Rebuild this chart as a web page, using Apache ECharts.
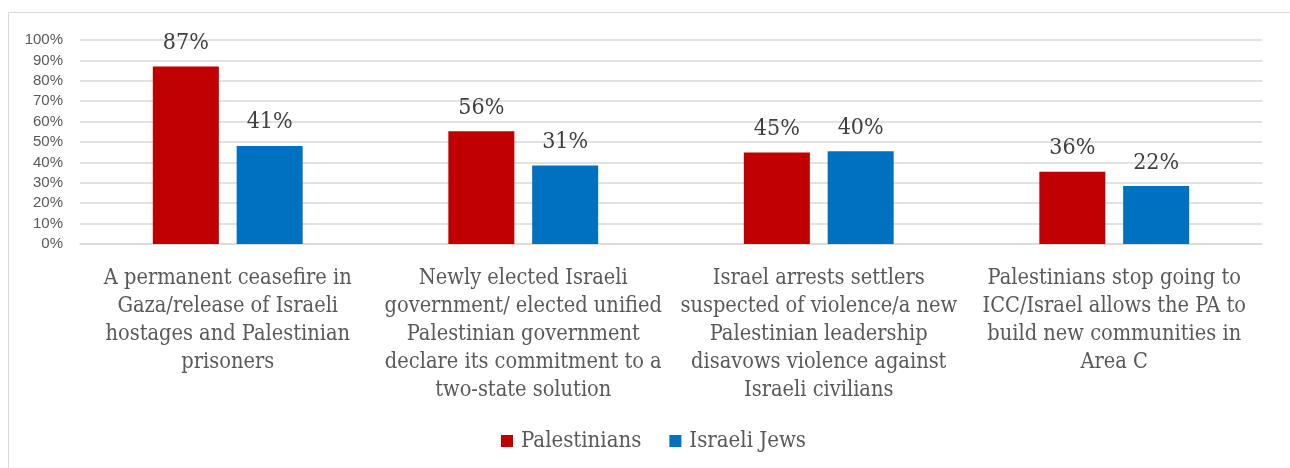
<!DOCTYPE html>
<html>
<head>
<meta charset="utf-8">
<script src="https://cdn.jsdelivr.net/npm/echarts@6/dist/echarts.min.js"></script>
<style>
html,body{margin:0;padding:0;background:#fff;}
#chart{width:1290px;height:468px;}
</style>
</head>
<body>
<div id="chart"></div>
<script>
var categories = [
  "A permanent ceasefire in\nGaza/release of Israeli\nhostages and Palestinian\nprisoners",
  "Newly elected Israeli\ngovernment/ elected unified\nPalestinian government\ndeclare its commitment to a\ntwo-state solution",
  "Israel arrests settlers\nsuspected of violence/a new\nPalestinian leadership\ndisavows violence against\nIsraeli civilians",
  "Palestinians stop going to\nICC/Israel allows the PA to\nbuild new communities in\nArea C"
];
var seriesNames = ["Palestinians", "Israeli Jews"];
var palestinians = [87, 55.3, 44.8, 35.4];
var israeliJews = [48.1, 38.5, 45.5, 28.4];
var palestiniansLabels = ["87%", "56%", "45%", "36%"];
var israeliJewsLabels = ["41%", "31%", "40%", "22%"];
var yTicks = [0, 10, 20, 30, 40, 50, 60, 70, 80, 90, 100];

var chart = echarts.init(document.getElementById('chart'), null, {renderer: 'canvas'});
var serif = "'DejaVu Serif Condensed', 'DejaVu Serif', serif";
function mkLabel(arr) {
  return {
    show: true, position: 'top', distance: 12,
    fontFamily: serif, fontSize: 23, color: '#404040',
    formatter: function (p) { return arr[p.dataIndex]; }
  };
}
chart.setOption({
  animation: false,
  graphic: [{
    type: 'rect', left: 6, top: 10,
    shape: {width: 1300, height: 470},
    style: {fill: 'none', stroke: '#d9d9d9', lineWidth: 1}
  }],
  grid: {left: 80, right: 28, top: 40, bottom: 224, containLabel: false},
  legend: {
    top: 425, left: 496, itemWidth: 12, itemHeight: 12, itemGap: 28,
    icon: 'rect',
    textStyle: {fontFamily: serif, fontSize: 22, color: '#595959', padding: [0, 0, 0, 3]},
    data: seriesNames
  },
  xAxis: {
    type: 'category', data: categories,
    axisLine: {lineStyle: {color: '#d9d9d9', width: 1.5}},
    axisTick: {show: false},
    axisLabel: {
      interval: 0, margin: 20, fontFamily: serif, fontSize: 21.6,
      color: '#595959', lineHeight: 28, align: 'center', verticalAlign: 'top'
    }
  },
  yAxis: {
    type: 'value', min: 0, max: 100, interval: 10,
    axisLine: {show: false}, axisTick: {show: false},
    splitLine: {lineStyle: {color: '#d9d9d9', width: 1.5}},
    axisLabel: {
      fontFamily: "'Liberation Sans', 'DejaVu Sans', sans-serif",
      fontSize: 15, color: '#595959', margin: 17,
      formatter: function (v) { return yTicks.indexOf(v) >= 0 ? v + '%' : ''; }
    }
  },
  series: [
    {
      name: seriesNames[0], type: 'bar', data: palestinians,
      barWidth: 66, barGap: '27%',
      itemStyle: {color: '#c00000'},
      label: mkLabel(palestiniansLabels)
    },
    {
      name: seriesNames[1], type: 'bar', data: israeliJews,
      barWidth: 66, barGap: '27%',
      itemStyle: {color: '#0070c0'},
      label: mkLabel(israeliJewsLabels)
    }
  ]
});
</script>
</body>
</html>
